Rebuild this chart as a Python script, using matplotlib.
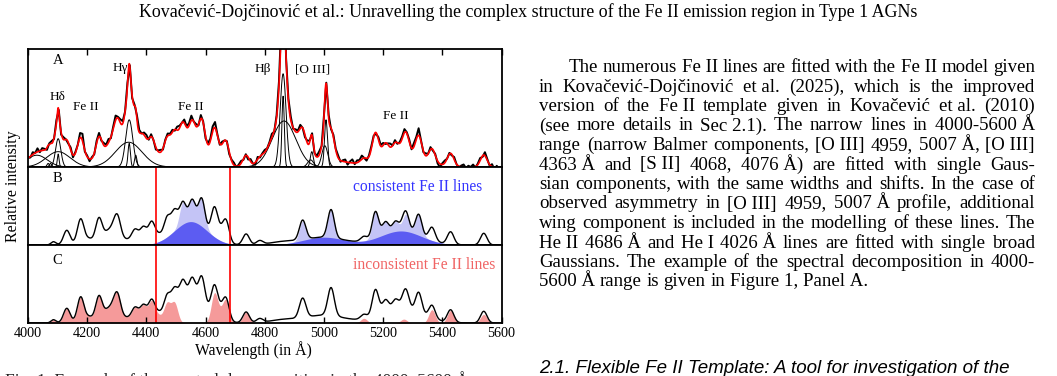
import numpy as np
import matplotlib
matplotlib.use("Agg")
import matplotlib.pyplot as plt

# ---------------- data ----------------
xticks = [4000, 4200, 4400, 4600, 4800, 5000, 5200, 5400, 5600]
red_marks = [4434, 4684]

# Fe II template, "consistent" lines (panel B units)
cons_center = [4523, 4555, 4587, 4928, 5024, 5174, 5208, 5242, 5277, 5320]
cons_height = [0.28, 0.28, 0.36, 0.25, 0.36, 0.34, 0.16, 0.13, 0.22, 0.27]
cons_sigma = [11, 11, 11, 11, 11, 11, 11, 11, 11, 11]
# broad consistent components (dark blue)
consb_center = [4550, 5000, 5260]
consb_height = [0.30, 0.10, 0.18]
consb_sigma = [55, 70, 70]

# Fe II template, "inconsistent" lines (panel C)
inc_center = [4086, 4131, 4178, 4205, 4240, 4268, 4286, 4302, 4362, 4390, 4418, 4442,
              4470, 4495, 4630, 4650, 4669, 4737, 5135, 5270, 5365, 5428, 5540, 4300]
inc_height = [0.04, 0.18, 0.31, 0.04, 0.29, 0.08, 0.10, 0.28, 0.14, 0.18, 0.25, 0.07,
              0.24, 0.25, 0.37, 0.09, 0.28, 0.14, 0.06, 0.05, 0.17, 0.16, 0.11, 0.08]
inc_sigma = [8, 11, 11, 11, 11, 11, 11, 11, 11, 11, 11, 11,
             11, 11, 11, 11, 11, 11, 11, 11, 11, 11, 11, 80]

# remaining template lines (only in the black curve)
oth_center = [4783, 4860, 5540]
oth_height = [0.05, 0.035, 0.04]
oth_sigma = [11, 45, 11]

# Panel A: Fe II scale and emission-line components (He I, [S II], Hd, Hg, [O III], Hb)
feA_scale = 68
lineA_center = [4030, 4068, 4076, 4102, 4102, 4102, 4340, 4342, 4342, 4364,
                4862, 4862, 4865, 4955, 4959, 5003, 5007]
lineA_height = [10, 3, 3, 13, 24, 11, 21, 40, 20, 10,
                60, 79, 39, 6, 13, 18, 40]
lineA_sigma = [35, 4, 4, 40, 9, 3, 45, 12, 4, 4,
               4, 10, 40, 10, 5, 10, 5]

# observed spectrum: residual from the fit, every 8 A from 4000 A
obs_start, obs_step = 4000, 8
obs_resid = [1, -1, 2, 0, 3, -1, 2, 1, -2, 1,
             2, -1, 3, 1, -2, 2, 0, -1, 2, -2,
             1, 0, 4, 6, -1, 1, -2, 1, -1, 2,
             3, -1, 2, 1, 3, -1, 2, 4, 1, 3,
             2, 0, 3, 1, -2, 1, 3, 2, 0, 2,
             3, -1, 2, 0, -2, 1, 2, -1, 1, 2,
             1, 2, -1, 3, 2, 0, 3, 1, 2, 4,
             0, 2, -1, 3, 1, -2, 1, 2, 4, 5,
             1, -1, 2, 0, 1, -2, 1, 2, -1, 1,
             2, -1, 1, -2, 2, 0, -2, 2, -1, 1,
             2, 0, 1, 3, -1, 2, 4, -3, 2, 0,
             2, 3, -1, 2, 1, 3, 0, -2, 2, 1,
             2, -1, 1, 3, 0, 2, 1, 3, -1, 2,
             1, 2, -1, 1, 2, -2, 1, 3, -1, 2,
             1, 3, 0, -2, 1, 2, 1, -1, 2, 1,
             2, -1, 1, 3, 0, 2, -1, 1, 2, 3,
             1, 2, -1, 3, 2, 6, 1, -1, 2, 0,
             2, -1, 1, -2, -3, 1, 2, 0, 1, -1,
             2, 0, -1, 1, 2, -1, 1, 0, 2, -1,
             1, 2, -1, 3, 1, -1, 2, -2, 1, -2]

panel_labels = ["A", "B", "C"]
lineA_labels = ["H\u03b4", "Fe II", "H\u03b3", "Fe II", "H\u03b2", "[O III]", "Fe II"]

header = ("Kova\u010devi\u0107-Doj\u010dinovi\u0107 et al.: Unravelling the complex "
          "structure of the Fe II emission region in Type 1 AGNs")
NB = "\u00a0"
body = [
    "The numerous Fe~II lines are fitted with the Fe~II model given",
    "in Kova\u010devi\u0107-Doj\u010dinovi\u0107 et~al. (2025), which is the improved",
    "version of the Fe~II template given in Kova\u010devi\u0107 et~al. (2010)",
    "(see more details in Sec~2.1). The narrow lines in 4000-5600~\u00c5",
    "range (narrow Balmer components, [O~III] 4959, 5007~\u00c5, [O~III]",
    "4363~\u00c5 and [S~II] 4068, 4076~\u00c5) are fitted with single Gaus-",
    "sian components, with the same widths and shifts. In the case of",
    "observed asymmetry in [O~III] 4959, 5007~\u00c5 profile, additional",
    "wing component is included in the modelling of these lines. The",
    "He~II 4686~\u00c5 and He~I 4026~\u00c5 lines are fitted with single broad",
    "Gaussians. The example of the spectral decomposition in 4000-",
    "5600~\u00c5 range is given in Figure~1, Panel~A.",
]
section = "2.1. Flexible Fe II Template: A tool for investigation of the"
caption = "Fig. 1. Example of the spectral decomposition in the 4000\u20135600 \u00c5 range."

# ---------------- drawing ----------------
W, H = 1057, 376
fig = plt.figure(figsize=(W / 100, H / 100), dpi=100)
renderer = fig.canvas.get_renderer()
SERIF = ["Liberation Serif", "DejaVu Serif"]
SANS = ["Liberation Sans", "DejaVu Sans"]


def T(x, y, s, size, **kw):
    kw.setdefault("family", SERIF)
    return fig.text(x / W, 1 - y / H, s, fontsize=size, **kw)


def width_of(s, size, **kw):
    t = T(0, 0, s, size, **kw)
    w = t.get_window_extent(renderer).width
    t.remove()
    return w


def fit_size(s, target, **kw):
    return 10 * target / width_of(s, 10, **kw)


def gsum(x, c, h, s):
    x = np.asarray(x, float)[:, None]
    c, h, s = (np.asarray(v, float)[None, :] for v in (c, h, s))
    return (h * np.exp(-0.5 * ((x - c) / s) ** 2)).sum(axis=1)


def px_axes(x0, y0, x1, y1):
    return fig.add_axes([x0 / W, 1 - y1 / H, (x1 - x0) / W, (y1 - y0) / H])


X0, X1 = 28, 501.5
axA = px_axes(X0, 49, X1, 167)
axB = px_axes(X0, 167, X1, 245)
axC = px_axes(X0, 245, X1, 323)

wave = np.linspace(4000, 5600, 3201)
cons_b = gsum(wave, consb_center, consb_height, consb_sigma)
cons_all = cons_b + gsum(wave, cons_center, cons_height, cons_sigma)
inc_all = gsum(wave, inc_center, inc_height, inc_sigma)
template = cons_all + inc_all + gsum(wave, oth_center, oth_height, oth_sigma)

# panel A
waveA = wave[wave <= 5590]


def modelA(x):
    t = (gsum(x, consb_center, consb_height, consb_sigma)
         + gsum(x, cons_center, cons_height, cons_sigma)
         + gsum(x, inc_center, inc_height, inc_sigma)
         + gsum(x, oth_center, oth_height, oth_sigma))
    return feA_scale * t + gsum(x, lineA_center, lineA_height, lineA_sigma)


obs_wave = obs_start + obs_step * np.arange(len(obs_resid))
obs_flux = modelA(obs_wave) + np.asarray(obs_resid, float)

for c, h, s in zip(lineA_center, lineA_height, lineA_sigma):
    axA.plot(wave, gsum(wave, [c], [h], [s]), color="black", lw=0.7)
axA.plot(obs_wave, obs_flux, color="black", lw=1.4)
axA.plot(waveA, modelA(waveA), color="red", lw=1.2)
axA.set_ylim(0, 100)

# panel B
axB.fill_between(wave, 0, cons_all, color="#c4c4f6", lw=0)
axB.fill_between(wave, 0, cons_b, color="#5c5cf2", lw=0)
axB.plot(wave, template, color="black", lw=1.0)
axB.set_ylim(0, 1)

# panel C
axC.fill_between(wave, 0, inc_all, color="#f59a9a", lw=0)
axC.plot(wave, template, color="black", lw=1.0)
axC.set_ylim(0, 1)

for ax in (axB, axC):
    for m in red_marks:
        ax.axvline(m, color="red", lw=1.2)

tick_size = fit_size("4000", 28, family=SERIF)
for ax in (axA, axB, axC):
    ax.set_xlim(4000, 5600)
    ax.set_yticks([])
    ax.set_xticks(xticks)
    ax.tick_params(axis="x", direction="in", length=4, width=1,
                   top=False, bottom=False, labelbottom=False)
    for sp in ax.spines.values():
        sp.set_linewidth(1.3)
axA.tick_params(axis="x", top=True)
axC.tick_params(axis="x", bottom=True, labelbottom=True, pad=3)
axC.set_xticklabels([str(v) for v in xticks], fontsize=tick_size, family=SERIF)

# axis titles
xl = "Wavelength (in \u00c5)"
T(253, 355, xl, fit_size(xl, 117), ha="center", va="baseline")
yl = "Relative intensity"
T(13.5, 186, yl, fit_size(yl, 112), ha="center", va="center", rotation=90)

# panel letters
for lab, (x, y) in zip(panel_labels, [(58, 61), (57, 179), (57, 261)]):
    T(x, y, lab, 10.5, ha="center", va="center")

# line labels in panel A
for lab, (x, y) in zip(lineA_labels, [(58, 97), (86, 107), (120, 68), (191, 107),
                                      (263, 69), (313, 69), (396, 116)]):
    T(x, y, lab, 9.5, ha="center", va="center")

s1 = "consistent Fe II lines"
T(353, 187, s1, fit_size(s1, 129), ha="left", va="center", color="#3434ff")
s2 = "inconsistent Fe II lines"
T(353, 265, s2, fit_size(s2, 142), ha="left", va="center", color="#f06464")

# header
T(528, 17, header, fit_size(header, 781), ha="center", va="baseline")

# body text, justified
L, R = 539, 1035
lines_plain = [b.replace("~", NB) for b in body]
ratios = []
for i, b in enumerate(lines_plain[:-1]):
    x0 = L + (30 if i == 0 else 0)
    ratios.append((R - x0) / width_of(b, 10))
body_size = 10 * min(ratios)
space_w = width_of("a a", body_size) - width_of("aa", body_size)
for i, b in enumerate(lines_plain):
    y = 72 + 19.5 * i
    x0 = L + (30 if i == 0 else 0)
    words = b.split(" ")
    ws = [width_of(w, body_size) for w in words]
    if i < len(lines_plain) - 1:
        gap = (R - x0 - sum(ws)) / (len(words) - 1)
    else:
        gap = space_w
    x = x0
    for w, wd in zip(words, ws):
        T(x, y, w, body_size, ha="left", va="baseline")
        x += wd + gap

# section heading (cut by page bottom) and caption start
T(539, 373, section, fit_size(section, 474, family=SANS, style="italic"),
  family=SANS, style="italic", ha="left", va="baseline")
T(5, 385, caption, body_size * 0.92, ha="left", va="baseline", color="#222222")

fig.savefig("out.png", dpi=100)
